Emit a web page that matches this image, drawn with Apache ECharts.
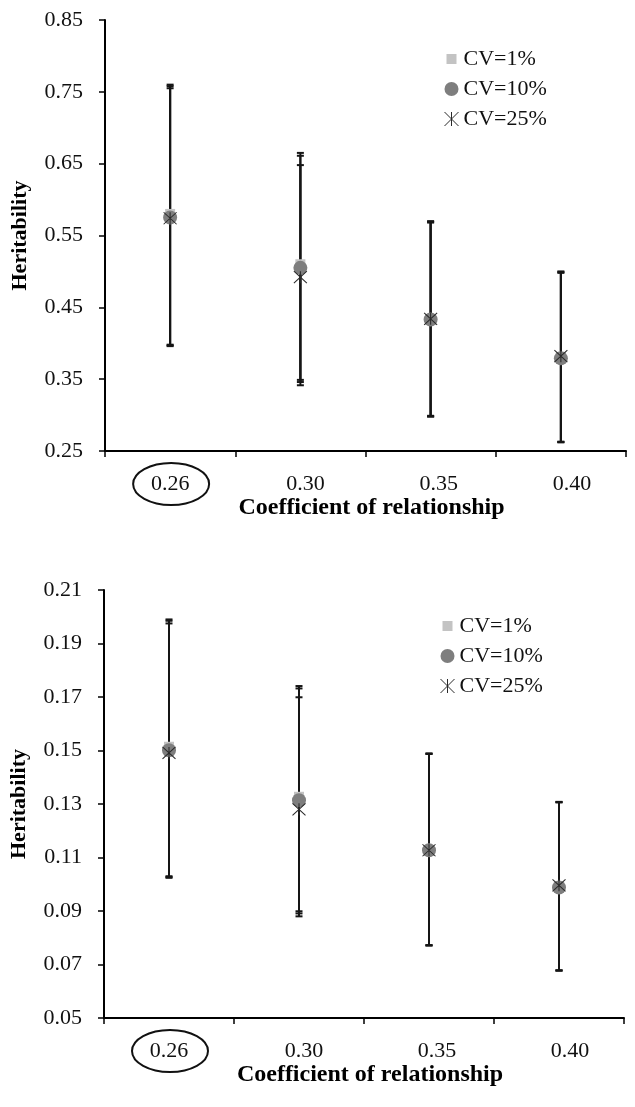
<!DOCTYPE html>
<html>
<head>
<meta charset="utf-8">
<script src="https://cdn.jsdelivr.net/npm/echarts@6/dist/echarts.min.js"></script>
<style>
html,body{margin:0;padding:0;background:#fff;}
#chart{width:635px;height:1107px;}
</style>
</head>
<body>
<div id="chart"></div>
<script>
// ---- data ----
const categories = ['0.26', '0.30', '0.35', '0.40'];
const seriesNames = ['CV=1%', 'CV=10%', 'CV=25%'];

// top panel
const topTicks = [0.25, 0.35, 0.45, 0.55, 0.65, 0.75, 0.85];
const topCV1 = [0.580, 0.510, 0.433, 0.381];
const topCV10 = [0.575, 0.505, 0.433, 0.379];
const topCV25 = [0.574, 0.492, 0.434, 0.382];
const topCV1Low = [0.398, 0.349, 0.298, 0.263];
const topCV1High = [0.760, 0.665, 0.570, 0.500];
const topCV10Low = [0.397, 0.346, 0.299, 0.262];
const topCV10High = [0.758, 0.661, 0.569, 0.499];
const topCV25Low = [0.396, 0.3415, 0.298, 0.2625];
const topCV25High = [0.755, 0.648, 0.568, 0.498];

// bottom panel
const botTicks = [0.05, 0.07, 0.09, 0.11, 0.13, 0.15, 0.17, 0.19, 0.21];
const botCV1 = [0.1514, 0.1327, 0.1127, 0.0990];
const botCV10 = [0.1501, 0.1314, 0.1127, 0.0988];
const botCV25 = [0.1491, 0.1280, 0.1127, 0.0996];
const botCV1Low = [0.1030, 0.0899, 0.0772, 0.0678];
const botCV1High = [0.1990, 0.1741, 0.1489, 0.1308];
const botCV10Low = [0.1027, 0.0891, 0.0772, 0.0678];
const botCV10High = [0.1985, 0.1732, 0.1488, 0.1307];
const botCV25Low = [0.1024, 0.0880, 0.0771, 0.0677];
const botCV25High = [0.1975, 0.1699, 0.1487, 0.1306];

const circledCategory = '0.26';
const xName = 'Coefficient of relationship';
const yName = 'Heritability';

// ---- styling ----
const FONT = "'Liberation Serif', 'Times New Roman', serif";
const FS = 22;
const STAR = 'path://M0,0 L12,12 M12,0 L0,12 M6,0 L6,12';
const SQUARE = 'path://M0,0 M14,14 M2,2 L12,2 L12,12 L2,12 Z';
const LABEL_SHIFT = [0, 5, 8, 11]; // label drift seen in the reference

const chart = echarts.init(document.getElementById('chart'), null, {renderer: 'canvas'});

function errRender(params, api) {
  const x = api.value(0);
  const lo = api.coord([x, api.value(1)]);
  const hi = api.coord([x, api.value(2)]);
  const w = 3.5;
  const st = {stroke: '#151515', lineWidth: 2};
  return {
    type: 'group',
    children: [
      {type: 'line', shape: {x1: lo[0], y1: lo[1], x2: hi[0], y2: hi[1]}, style: st},
      {type: 'line', shape: {x1: lo[0] - w, y1: lo[1], x2: lo[0] + w, y2: lo[1]}, style: st},
      {type: 'line', shape: {x1: hi[0] - w, y1: hi[1], x2: hi[0] + w, y2: hi[1]}, style: st}
    ]
  };
}

let errCount = 0;
function errSeries(idx, low, high) {
  errCount += 1;
  return {
    type: 'custom', name: 'errorbars' + errCount,
    xAxisIndex: idx, yAxisIndex: idx, z: 1, silent: true,
    renderItem: errRender,
    encode: {x: 0, y: [1, 2]},
    data: categories.map((c, i) => [i, low[i], high[i]])
  };
}

function markerSeries(idx, cvIdx, values) {
  const base = {type: 'scatter', name: seriesNames[cvIdx], xAxisIndex: idx, yAxisIndex: idx, data: values};
  if (cvIdx === 0) {
    return Object.assign(base, {symbol: 'rect', symbolSize: 10, z: 2, itemStyle: {color: '#c3c3c3', opacity: 1}});
  } else if (cvIdx === 1) {
    return Object.assign(base, {symbol: 'circle', symbolSize: 14, z: 3, itemStyle: {color: '#7e7e7e', opacity: 1}});
  }
  return Object.assign(base, {symbol: STAR, symbolSize: [13, 12], z: 4,
    itemStyle: {color: 'none', borderColor: '#2a2a2a', borderWidth: 1, opacity: 1}});
}

const labelRich = {};
LABEL_SHIFT.forEach((s, i) => {
  labelRich['s' + i] = {fontFamily: FONT, fontSize: FS, color: '#111', padding: [0, 0, 0, 2 * s]};
});

function xAxisOpt(idx) {
  return {
    type: 'category', gridIndex: idx, data: categories, boundaryGap: true,
    axisLine: {show: true, lineStyle: {color: '#000', width: 2}},
    axisTick: {show: true, inside: false, length: 6, lineStyle: {color: '#000', width: 1.5}},
    axisLabel: {color: '#111', fontFamily: FONT, fontSize: FS, margin: 22,
      formatter: (v, i) => '{s' + i + '|' + v + '}', rich: labelRich},
    splitLine: {show: false},
    name: xName, nameLocation: 'middle', nameGap: 35,
    nameTextStyle: {color: '#000', fontFamily: FONT, fontSize: 24, fontWeight: 'bold', padding: [0, 0, 0, 12]}
  };
}

function yAxisOpt(idx, ticks, step) {
  return {
    type: 'value', gridIndex: idx,
    min: ticks[0], max: ticks[ticks.length - 1], interval: step,
    axisLine: {show: true, lineStyle: {color: '#000', width: 2}},
    axisTick: {show: true, inside: false, length: 6, lineStyle: {color: '#000', width: 1.5}},
    axisLabel: {color: '#111', fontFamily: FONT, fontSize: FS, margin: 22,
      formatter: v => v.toFixed(2)},
    splitLine: {show: false},
    name: yName, nameLocation: 'middle', nameGap: 74, nameRotate: 90,
    nameTextStyle: {color: '#000', fontFamily: FONT, fontSize: FS, fontWeight: 'bold'}
  };
}

function legendOpt(top, left) {
  return {
    orient: 'vertical', left: left, top: top, itemGap: 8, itemWidth: 14, itemHeight: 14, itemTextGap: 4,
    selectedMode: false,
    textStyle: {color: '#111', fontFamily: FONT, fontSize: FS, lineHeight: 22},
    data: [
      {name: seriesNames[0], icon: SQUARE, itemStyle: {color: '#c3c3c3'}},
      {name: seriesNames[1], icon: 'circle', itemStyle: {color: '#7e7e7e'}},
      {name: seriesNames[2], icon: STAR, itemStyle: {color: 'none', borderColor: '#2a2a2a', borderWidth: 1}}
    ]
  };
}

const option = {
  animation: false,
  backgroundColor: '#fff',
  grid: [
    {left: 105, right: 9, top: 20, height: 431, containLabel: false},
    {left: 104, right: 11, top: 590, height: 428, containLabel: false}
  ],
  legend: [legendOpt(43, 437), legendOpt(610, 433)],
  xAxis: [xAxisOpt(0), xAxisOpt(1)],
  yAxis: [yAxisOpt(0, topTicks, 0.1), yAxisOpt(1, botTicks, 0.02)],
  series: [
    errSeries(0, topCV1Low, topCV1High),
    errSeries(0, topCV10Low, topCV10High),
    errSeries(0, topCV25Low, topCV25High),
    markerSeries(0, 0, topCV1),
    markerSeries(0, 1, topCV10),
    markerSeries(0, 2, topCV25),
    errSeries(1, botCV1Low, botCV1High),
    errSeries(1, botCV10Low, botCV10High),
    errSeries(1, botCV25Low, botCV25High),
    markerSeries(1, 0, botCV1),
    markerSeries(1, 1, botCV10),
    markerSeries(1, 2, botCV25)
  ]
};
chart.setOption(option);

// ellipse around the highlighted category label in each panel
const ellipses = [];
[[0, topTicks[0]], [1, botTicks[0]]].forEach(([idx, ymin]) => {
  const cx = chart.convertToPixel({xAxisIndex: idx}, circledCategory);
  const axY = chart.convertToPixel({yAxisIndex: idx}, ymin);
  ellipses.push({
    type: 'ellipse', z: 10, silent: true,
    shape: {cx: cx + 1, cy: axY + 33, rx: 38, ry: 21},
    style: {fill: 'none', stroke: '#111', lineWidth: 2}
  });
});
chart.setOption({graphic: ellipses});
</script>
</body>
</html>
